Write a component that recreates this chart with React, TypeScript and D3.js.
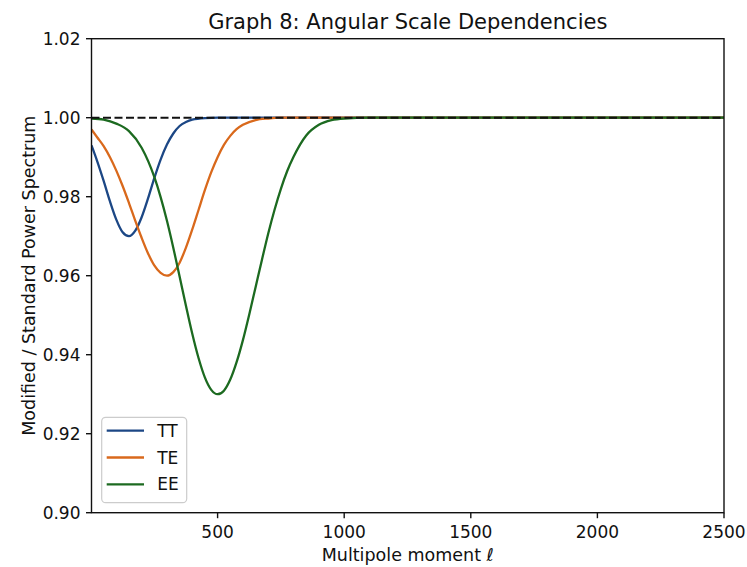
import React from "react";
import * as d3 from "d3";

const TITLE = "Graph 8: Angular Scale Dependencies";
const X_LABEL = "Multipole moment ";
const Y_LABEL = "Modified / Standard Power Spectrum";
const X_TICKS = [500, 1000, 1500, 2000, 2500];
const Y_TICKS = [0.9, 0.92, 0.94, 0.96, 0.98, 1.0, 1.02];
const SERIES_NAMES = ["TT", "TE", "EE"];
const SERIES_COLORS = ["#1c4785", "#d9691c", "#1c6a20"];

const ELL_TT = [2, 25, 50, 75, 100, 125, 150, 175, 200, 225, 250, 275, 300, 325, 350, 375, 400, 450, 500, 1000, 2500];
const VAL_TT = [0.993, 0.9889, 0.984, 0.9788, 0.9742, 0.971, 0.97, 0.9714, 0.9748, 0.9795, 0.9847, 0.9894, 0.9932, 0.996, 0.9979, 0.9989, 0.9995, 0.9999, 1.0, 1.0, 1.0];

const ELL_TE = [2, 25, 50, 75, 100, 125, 150, 175, 200, 225, 250, 275, 300, 325, 350, 375, 400, 425, 450, 475, 500, 525, 550, 575, 600, 650, 700, 750, 1000, 2500];
const VAL_TE = [0.997, 0.995, 0.9928, 0.99, 0.9866, 0.9827, 0.9784, 0.9739, 0.9696, 0.9657, 0.9626, 0.9607, 0.96, 0.9609, 0.9633, 0.9671, 0.9717, 0.9767, 0.9817, 0.9862, 0.99, 0.9931, 0.9954, 0.9971, 0.9982, 0.9994, 0.9998, 1.0, 1.0, 1.0];

const ELL_EE = [2, 50, 100, 150, 200, 250, 275, 300, 325, 350, 375, 400, 425, 450, 475, 500, 525, 550, 575, 600, 625, 650, 675, 700, 725, 750, 775, 800, 850, 900, 950, 1000, 1100, 2500];
const VAL_EE = [0.9998, 0.9995, 0.9985, 0.9966, 0.9924, 0.985, 0.9799, 0.9739, 0.9671, 0.9598, 0.9524, 0.9453, 0.9391, 0.9342, 0.9311, 0.93, 0.9309, 0.9337, 0.9381, 0.9437, 0.9502, 0.9571, 0.964, 0.9707, 0.9767, 0.982, 0.9865, 0.9901, 0.9955, 0.9982, 0.9994, 0.9998, 1.0, 1.0];

const REF_LEVEL = 1.0;
const X_DOMAIN = [2, 2500];
const Y_DOMAIN = [0.9, 1.02];

const W = 747;
const H = 567;
const M = { left: 91.5, right: 724, top: 38.7, bottom: 512.7 };
const FONT = "DejaVu Sans";
const INK = "#111";

export default function App() {
  const x = d3.scaleLinear().domain(X_DOMAIN).range([M.left, M.right]);
  const y = d3.scaleLinear().domain(Y_DOMAIN).range([M.bottom, M.top]);
  const line = d3
    .line<[number, number]>()
    .x((d) => x(d[0]))
    .y((d) => y(d[1]))
    .curve(d3.curveMonotoneX);

  const series = [
    { ell: ELL_TT, val: VAL_TT },
    { ell: ELL_TE, val: VAL_TE },
    { ell: ELL_EE, val: VAL_EE },
  ];

  const legX = 101.7;
  const legY = 417.3;
  const rowH = 26.8;

  return (
    <svg
      width={W}
      height={H}
      style={{ position: "absolute", left: 0, top: 0, background: "#fff" }}
      fontFamily={FONT}
    >
      <rect x={0} y={0} width={W} height={H} fill="#fff" />
      <defs>
        <clipPath id="plotclip">
          <rect x={M.left} y={M.top} width={M.right - M.left} height={M.bottom - M.top} />
        </clipPath>
      </defs>
      <g clipPath="url(#plotclip)">
        {series.map((s, i) => (
          <path
            key={SERIES_NAMES[i]}
            d={line(s.ell.map((e, j) => [e, s.val[j]] as [number, number])) || ""}
            fill="none"
            stroke={SERIES_COLORS[i]}
            strokeWidth={2.3}
          />
        ))}
        <line
          x1={x(X_DOMAIN[0])}
          x2={x(X_DOMAIN[1])}
          y1={y(REF_LEVEL)}
          y2={y(REF_LEVEL)}
          stroke={INK}
          strokeWidth={2}
          strokeDasharray="8,3.5"
        />
      </g>
      <rect
        x={M.left}
        y={M.top}
        width={M.right - M.left}
        height={M.bottom - M.top}
        fill="none"
        stroke={INK}
        strokeWidth={1.4}
      />
      {X_TICKS.map((t) => (
        <g key={"x" + t}>
          <line x1={x(t)} x2={x(t)} y1={M.bottom} y2={M.bottom + 5.5} stroke={INK} strokeWidth={1.4} />
          <text x={x(t)} y={538} textAnchor="middle" fontSize={17} fill={INK}>
            {t}
          </text>
        </g>
      ))}
      {Y_TICKS.map((t) => (
        <g key={"y" + t}>
          <line x1={M.left - 5.5} x2={M.left} y1={y(t)} y2={y(t)} stroke={INK} strokeWidth={1.4} />
          <text x={80.5} y={y(t)} dy="0.36em" textAnchor="end" fontSize={17} fill={INK}>
            {t.toFixed(2)}
          </text>
        </g>
      ))}
      <text x={(M.left + M.right) / 2} y={28.5} textAnchor="middle" fontSize={21} fill={INK}>
        {TITLE}
      </text>
      <text x={(M.left + M.right) / 2} y={561} textAnchor="middle" fontSize={17.5} fill={INK}>
        {X_LABEL}
        <tspan fontStyle="italic">ℓ</tspan>
      </text>
      <text
        transform={`translate(35, ${(M.top + M.bottom) / 2}) rotate(-90)`}
        textAnchor="middle"
        fontSize={17.5}
        fill={INK}
      >
        {Y_LABEL}
      </text>
      <g>
        <rect
          x={legX}
          y={legY}
          width={85}
          height={85.4}
          rx={4}
          fill="#fff"
          fillOpacity={0.85}
          stroke="#cccccc"
          strokeWidth={1.2}
        />
        {SERIES_NAMES.map((n, i) => (
          <g key={n}>
            <line
              x1={legX + 5}
              x2={legX + 42.3}
              y1={legY + 13.4 + i * rowH}
              y2={legY + 13.4 + i * rowH}
              stroke={SERIES_COLORS[i]}
              strokeWidth={2.3}
            />
            <text x={legX + 55.5} y={legY + 13.4 + i * rowH} dy="0.36em" fontSize={17} fill={INK}>
              {n}
            </text>
          </g>
        ))}
      </g>
    </svg>
  );
}
